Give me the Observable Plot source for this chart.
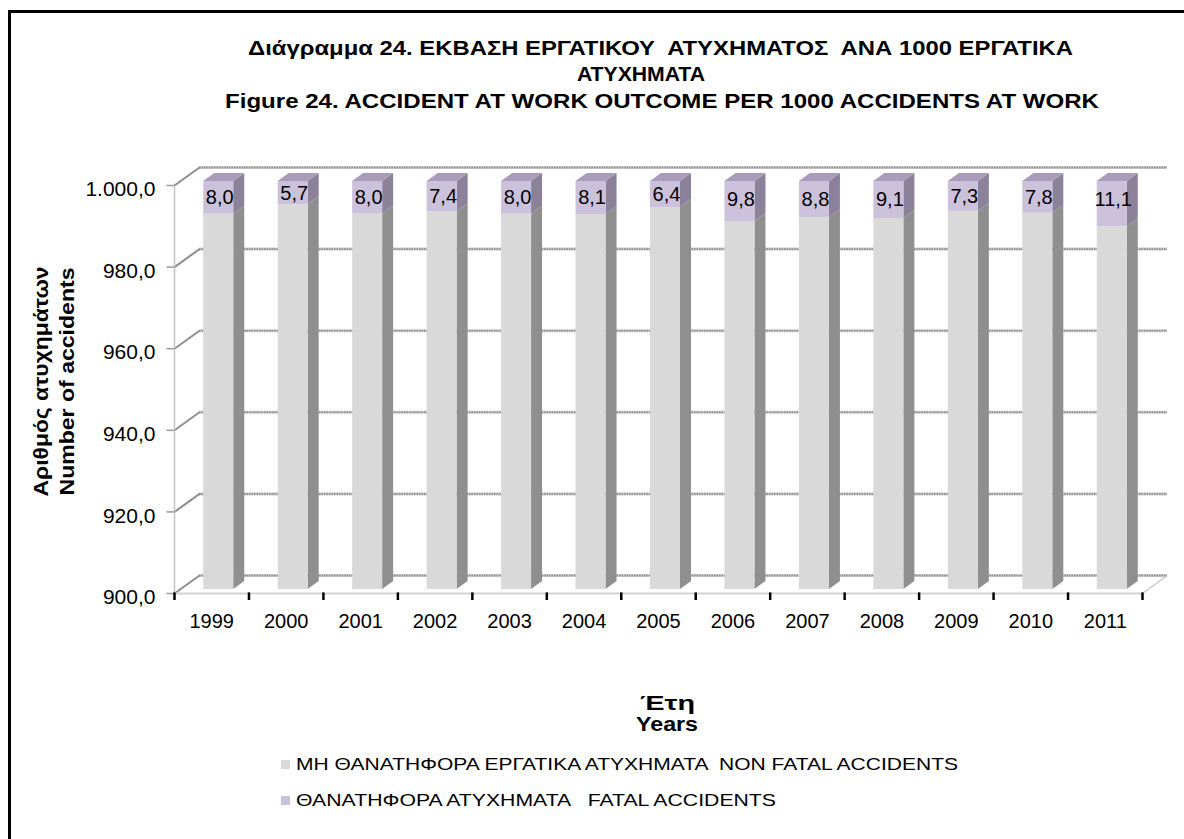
<!DOCTYPE html>
<html><head><meta charset="utf-8">
<script src="https://cdn.jsdelivr.net/npm/d3@7"></script>
<script src="https://cdn.jsdelivr.net/npm/@observablehq/plot@0.6"></script>
<style>
body{margin:0;background:#fff;font-family:"Liberation Sans",Arial,sans-serif;color:#000;}
#wrap{position:relative;width:1184px;height:839px;overflow:hidden;background:#fff;}
#frame{position:absolute;left:8px;top:10px;width:1300px;height:900px;border-left:3px solid #000;border-top:3px solid #000;}
#chart{position:absolute;left:0;top:0;}
.t{position:absolute;white-space:pre;line-height:1;}
.sw{position:absolute;width:9px;height:9px;}
</style></head>
<body><div id="wrap"><div id="frame"></div><div id="chart"></div></div>
<script>
// ---- data ----
const years = ["1999","2000","2001","2002","2003","2004","2005","2006","2007","2008","2009","2010","2011"];
const fatal = [8.0,5.7,8.0,7.4,8.0,8.1,6.4,9.8,8.8,9.1,7.3,7.8,11.1];
const nonFatal = [992.0,994.3,992.0,992.6,992.0,991.9,993.6,990.2,991.2,990.9,992.7,992.2,988.9];
const yTicks = [900,920,940,960,980,1000];
const yTickLabels = ["900,0","920,0","940,0","960,0","980,0","1.000,0"];
const seriesNames = ["ΜΗ ΘΑΝΑΤΗΦΟΡΑ ΕΡΓΑΤΙΚΑ ΑΤΥΧΗΜΑΤΑ  NON FATAL ACCIDENTS","ΘΑΝΑΤΗΦΟΡΑ ΑΤΥΧΗΜΑΤΑ   FATAL ACCIDENTS"];

// ---- style / geometry constants ----
const W = 1184, H = 839;
const X0 = 174, X1 = 1142, Y0 = 593, Y1 = 185;
const PX = years.length / (X1 - X0), PY = 100 / (Y0 - Y1);
const WALL = {dx: 25, dy: -18};
const BAR = {dx: 7, dy: -4, half: 15, dX: 11, dY: 8};
const C = {gray: "#d9d9d9", graySide: "#8f8f8f", purple: "#ccc1da", purpleSide: "#8b8199", purpleTop: "#a99cbb", grid: "#8e8e8e"};

const rows = years.map((year, i) => ({i, year, non: nonFatal[i], fat: fatal[i]}));
const bh = BAR.half * PX, ddx = BAR.dX * PX, ddy = BAR.dY * PY;
const sideG = rows.flatMap(d => [
  {z: "g" + d.i, x: d.i + 0.5 + bh, y1: 900, y2: d.non},
  {z: "g" + d.i, x: d.i + 0.5 + bh + ddx, y1: 900 + ddy, y2: d.non + ddy}]);
const sideP = rows.flatMap(d => [
  {z: "p" + d.i, x: d.i + 0.5 + bh, y1: d.non, y2: 1000},
  {z: "p" + d.i, x: d.i + 0.5 + bh + ddx, y1: d.non + ddy, y2: 1000 + ddy}]);
const topP = rows.flatMap(d => [
  {z: "t" + d.i, y: 1000, x1: d.i + 0.5 - bh, x2: d.i + 0.5 + bh},
  {z: "t" + d.i, y: 1000 + ddy, x1: d.i + 0.5 - bh + ddx, x2: d.i + 0.5 + bh + ddx}]);
const n = years.length;

const chart = Plot.plot({
  width: W, height: H, margin: 0,
  x: {type: "linear", domain: [0, n], range: [X0, X1], axis: null},
  y: {type: "linear", domain: [900, 1000], range: [Y0, Y1], axis: null},
  style: {fontFamily: "'Liberation Sans', Arial, sans-serif", background: "transparent", overflow: "visible"},
  marks: [
    // back wall gridlines
    Plot.ruleY(yTicks, {y: d => d, x1: () => 0, x2: () => n, dx: WALL.dx, dy: WALL.dy, stroke: "#c9c9c9", strokeWidth: 3}),
    Plot.ruleY(yTicks, {y: d => d, x1: () => 0, x2: () => n, dx: WALL.dx, dy: WALL.dy, stroke: C.grid, strokeWidth: 1.6, strokeDasharray: "1.5 1"}),
    // side wall slants
    Plot.link(yTicks, {x1: () => 0, y1: d => d, x2: () => WALL.dx * PX, y2: d => d - WALL.dy * PY, stroke: "#8e8e8e", strokeWidth: 2}),
    // floor right slant
    Plot.link([n], {x1: d => d, y1: () => 900, x2: d => d + WALL.dx * PX, y2: () => 900 - WALL.dy * PY, stroke: "#c8c8c8", strokeWidth: 1.5}),
    // floor front edge
    Plot.ruleY([900], {x1: () => 0, x2: () => n, stroke: "#d4d4d4", strokeWidth: 2}),
    // left wall front edge
    Plot.ruleX([0], {y1: () => 900, y2: () => 1000, stroke: "#c4c4c4", strokeWidth: 1.5}),
    // y tick marks
    Plot.link(yTicks, {x1: () => -8 * PX, x2: () => 0, y1: d => d, y2: d => d, stroke: "#9a9a9a", strokeWidth: 1.5}),
    // bars: sides
    Plot.areaY(sideG, {x: "x", y1: "y1", y2: "y2", z: "z", fill: C.graySide, dx: BAR.dx, dy: BAR.dy, curve: "linear"}),
    Plot.areaY(sideP, {x: "x", y1: "y1", y2: "y2", z: "z", fill: C.purpleSide, dx: BAR.dx, dy: BAR.dy, curve: "linear"}),
    // bars: fronts
    Plot.rect(rows, {x1: d => d.i + 0.5 - bh, x2: d => d.i + 0.5 + bh, y1: () => 900, y2: d => d.non, fill: C.gray, dx: BAR.dx, dy: BAR.dy}),
    Plot.rect(rows, {x1: d => d.i + 0.5 - bh, x2: d => d.i + 0.5 + bh, y1: d => d.non, y2: () => 1000, fill: C.purple, dx: BAR.dx, dy: BAR.dy}),
    // bars: top
    Plot.areaX(topP, {y: "y", x1: "x1", x2: "x2", z: "z", fill: C.purpleTop, dx: BAR.dx, dy: BAR.dy, curve: "linear"}),
    // value labels
    Plot.text(rows, {x: d => d.i + 0.5, y: d => 1000 - Math.min(d.fat, 9) / 2, text: d => d.fat.toFixed(1).replace(".", ","), dx: BAR.dx + 1, dy: BAR.dy, fontSize: 20, fill: "#000"}),
    // x ticks
    Plot.ruleX(d3.range(n + 1), {x: d => d, y1: () => 900 + 0.6 * PY, y2: () => 900 - 7 * PY, stroke: "#000", strokeWidth: 2.5}),
    // x labels
    Plot.text(years, {x: (d, i) => i + 0.5, y: () => 900, text: d => d, dy: 28, fontSize: 20, fill: "#000"}),
    // y labels
    Plot.text(yTicks, {x: () => 0, y: d => d, text: (d, i) => yTickLabels[i], dx: -19, dy: 4, textAnchor: "end", fontSize: 21, fill: "#000"})
  ]
});
document.getElementById("chart").appendChild(chart);

// ---- HTML texts (titles, axis titles, legend) ----
const wrap = document.getElementById("wrap");
function addText(txt, opts) {
  const el = document.createElement("div");
  el.className = "t";
  el.textContent = txt;
  el.style.fontSize = opts.fs + "px";
  el.style.fontWeight = opts.bold ? "bold" : "normal";
  wrap.appendChild(el);
  const w = el.getBoundingClientRect().width, h = el.getBoundingClientRect().height;
  const s = opts.w ? opts.w / w : 1;
  if (opts.rotate) {
    el.style.left = (opts.cx - w / 2) + "px";
    el.style.top = (opts.cy - h / 2) + "px";
    el.style.transformOrigin = "50% 50%";
    el.style.transform = `rotate(-90deg) scaleX(${s})`;
  } else {
    const left = opts.left !== undefined ? opts.left : opts.cx - w * s / 2;
    el.style.left = left + "px";
    el.style.top = (opts.cy - 0.49 * opts.fs) + "px";
    el.style.transformOrigin = "0 50%";
    el.style.transform = `scaleX(${s})`;
  }
  return el;
}
addText("Διάγραμμα 24. ΕΚΒΑΣΗ ΕΡΓΑΤΙΚΟΥ  ΑΤΥΧΗΜΑΤΟΣ  ΑΝΑ 1000 ΕΡΓΑΤΙΚΑ", {fs: 21, bold: true, left: 248, w: 825, cy: 47});
addText("ΑΤΥΧΗΜΑΤΑ", {fs: 21, bold: true, cx: 641, w: 128, cy: 73});
addText("Figure 24. ACCIDENT AT WORK OUTCOME PER 1000 ACCIDENTS AT WORK", {fs: 21, bold: true, left: 225, w: 874, cy: 100});
addText("Αριθμός ατυχημάτων", {fs: 21, bold: true, rotate: true, cx: 41, cy: 381, w: 230});
addText("Number of accidents", {fs: 21, bold: true, rotate: true, cx: 67, cy: 381, w: 228});
addText("Έτη", {fs: 20, bold: true, cx: 667, cy: 703, w: 55});
addText("Years", {fs: 20, bold: true, cx: 667, cy: 724, w: 62});
const legendColors = [C.gray, C.purple];
const legendY = [764, 800], legendW = [662, 480];
seriesNames.forEach((name, i) => {
  const sw = document.createElement("div");
  sw.className = "sw";
  sw.style.left = "281px";
  sw.style.top = (legendY[i] - 4.5) + "px";
  sw.style.background = legendColors[i];
  wrap.appendChild(sw);
  addText(name, {fs: 17, left: 296, w: legendW[i], cy: legendY[i]});
});
</script>
</body></html>
